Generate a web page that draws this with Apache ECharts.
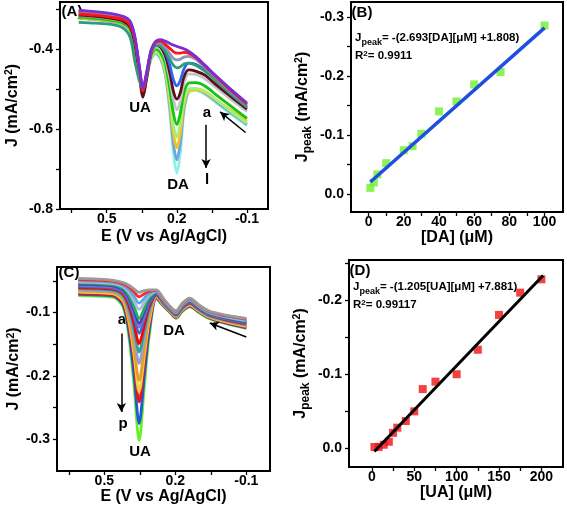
<!DOCTYPE html>
<html><head><meta charset="utf-8">
<script src="https://cdn.jsdelivr.net/npm/echarts@6/dist/echarts.min.js"></script>
<style>html,body{margin:0;padding:0;background:#fff}#c{width:567px;height:511px}</style>
</head><body><div id="c"></div>
<script>
// ---------- Panel A : DPV curves a..l (DA additions) ----------
const A_E = [0.62,0.55,0.48,0.43,0.40,0.38,0.36,0.345,0.33,0.31,0.29,0.27,0.25,0.23,0.215,0.20,0.185,0.17,0.15,0.12,0.08,0.03,-0.03,-0.1];
const A_a = [-0.303,-0.306,-0.311,-0.318,-0.33,-0.368,-0.445,-0.498,-0.46,-0.402,-0.38,-0.376,-0.38,-0.386,-0.39,-0.393,-0.396,-0.399,-0.405,-0.418,-0.44,-0.468,-0.5,-0.535];
const A_b = [-0.312,-0.315,-0.32,-0.326,-0.34,-0.375,-0.45,-0.505,-0.465,-0.405,-0.382,-0.38,-0.388,-0.398,-0.406,-0.41,-0.41,-0.408,-0.41,-0.42,-0.442,-0.47,-0.503,-0.538];
const A_c = [-0.308,-0.311,-0.316,-0.322,-0.335,-0.372,-0.448,-0.5,-0.462,-0.405,-0.384,-0.385,-0.395,-0.412,-0.423,-0.427,-0.425,-0.42,-0.418,-0.425,-0.445,-0.473,-0.506,-0.54];
const A_d = [-0.333,-0.335,-0.338,-0.347,-0.37,-0.43,-0.48,-0.5,-0.465,-0.41,-0.39,-0.392,-0.405,-0.425,-0.44,-0.447,-0.444,-0.437,-0.435,-0.44,-0.455,-0.48,-0.512,-0.545];
const A_e = [-0.306,-0.309,-0.314,-0.32,-0.333,-0.37,-0.447,-0.503,-0.465,-0.405,-0.386,-0.39,-0.405,-0.44,-0.476,-0.492,-0.478,-0.45,-0.435,-0.438,-0.452,-0.478,-0.51,-0.545];
const A_f = [-0.315,-0.318,-0.323,-0.33,-0.345,-0.385,-0.465,-0.52,-0.475,-0.41,-0.39,-0.395,-0.415,-0.46,-0.505,-0.525,-0.508,-0.47,-0.452,-0.455,-0.465,-0.49,-0.518,-0.55];
const A_g = [-0.316,-0.319,-0.324,-0.331,-0.346,-0.385,-0.46,-0.51,-0.47,-0.412,-0.395,-0.4,-0.422,-0.475,-0.525,-0.552,-0.53,-0.485,-0.462,-0.463,-0.474,-0.497,-0.525,-0.556];
const A_h = [-0.32,-0.323,-0.328,-0.335,-0.35,-0.39,-0.463,-0.51,-0.47,-0.415,-0.4,-0.408,-0.435,-0.5,-0.56,-0.589,-0.56,-0.51,-0.485,-0.484,-0.492,-0.515,-0.542,-0.573];
const A_i = [-0.318,-0.321,-0.326,-0.333,-0.348,-0.39,-0.462,-0.51,-0.472,-0.42,-0.408,-0.418,-0.45,-0.52,-0.59,-0.62,-0.585,-0.53,-0.5,-0.498,-0.505,-0.527,-0.555,-0.585];
const A_j = [-0.322,-0.325,-0.33,-0.337,-0.352,-0.392,-0.465,-0.512,-0.473,-0.42,-0.406,-0.418,-0.455,-0.535,-0.61,-0.647,-0.61,-0.54,-0.505,-0.502,-0.508,-0.528,-0.552,-0.58];
const A_k = [-0.323,-0.326,-0.331,-0.338,-0.353,-0.393,-0.467,-0.515,-0.475,-0.422,-0.41,-0.422,-0.46,-0.545,-0.635,-0.677,-0.635,-0.55,-0.505,-0.5,-0.51,-0.532,-0.558,-0.588];
const A_l = [-0.322,-0.325,-0.33,-0.337,-0.352,-0.395,-0.47,-0.52,-0.478,-0.425,-0.412,-0.425,-0.465,-0.56,-0.66,-0.71,-0.66,-0.56,-0.508,-0.503,-0.513,-0.535,-0.562,-0.592];
const A_colors = ['#7a2fd6','#ff1414','#8c94b8','#2c9c7c','#2c66f0','#5e0c16','#c3c3c9','#14c414','#a8f070','#f2c12c','#6ea6dc','#8cf2e8'];

// ---------- Panel B : calibration DA ----------
const B_conc = [1,3,5,10,20,25,30,40,50,60,75,100];
const B_jpeak = [-0.010,-0.019,-0.033,-0.052,-0.074,-0.081,-0.102,-0.140,-0.157,-0.186,-0.207,-0.286];
const B_fitX = [1,100];
const B_fitY = [-0.020,-0.282];

// ---------- Panel C : DPV curves a..p (UA additions) ----------
const C_E = [0.61,0.53,0.46,0.42,0.395,0.375,0.353,0.33,0.31,0.28,0.25,0.22,0.197,0.17,0.14,0.10,0.06,0.02,-0.03,-0.1];
const C_a = [-0.046,-0.047,-0.049,-0.0527,-0.0571,-0.0626,-0.068,-0.0654,-0.0641,-0.064,-0.078,-0.091,-0.097,-0.085,-0.077,-0.088,-0.097,-0.101,-0.105,-0.109];
const C_b = [-0.0478,-0.0488,-0.0508,-0.0548,-0.0603,-0.0675,-0.075,-0.0702,-0.0664,-0.0649,-0.0788,-0.0917,-0.0978,-0.0859,-0.0779,-0.0888,-0.0978,-0.1019,-0.1059,-0.1101];
const C_c = [-0.0496,-0.0506,-0.0526,-0.0571,-0.0644,-0.0742,-0.085,-0.0768,-0.0697,-0.0659,-0.0796,-0.0923,-0.0986,-0.0867,-0.0789,-0.0896,-0.0986,-0.1027,-0.1069,-0.1111];
const C_d = [-0.0514,-0.0524,-0.0544,-0.0594,-0.0685,-0.081,-0.095,-0.0833,-0.0729,-0.0668,-0.0804,-0.093,-0.0994,-0.0876,-0.0798,-0.0904,-0.0994,-0.1036,-0.1078,-0.1122];
const C_e = [-0.0532,-0.0542,-0.0562,-0.0619,-0.0737,-0.0901,-0.109,-0.0922,-0.0772,-0.0677,-0.0812,-0.0937,-0.1002,-0.0885,-0.0807,-0.0912,-0.1002,-0.1045,-0.1087,-0.1133];
const C_f = [-0.055,-0.056,-0.058,-0.0641,-0.0773,-0.0956,-0.117,-0.0976,-0.08,-0.0687,-0.082,-0.0943,-0.101,-0.0893,-0.0817,-0.092,-0.101,-0.1053,-0.1097,-0.1143];
const C_g = [-0.0568,-0.0578,-0.0598,-0.0661,-0.0803,-0.0999,-0.123,-0.1018,-0.0821,-0.0696,-0.0828,-0.095,-0.1018,-0.0902,-0.0826,-0.0928,-0.1018,-0.1062,-0.1106,-0.1154];
const C_h = [-0.0586,-0.0596,-0.0616,-0.0684,-0.0844,-0.1066,-0.133,-0.1084,-0.0853,-0.0705,-0.0836,-0.0957,-0.1026,-0.0911,-0.0835,-0.0936,-0.1026,-0.1071,-0.1115,-0.1165];
const C_i = [-0.0604,-0.0614,-0.0634,-0.0711,-0.0901,-0.117,-0.149,-0.1184,-0.0902,-0.0715,-0.0844,-0.0963,-0.1034,-0.0919,-0.0845,-0.0944,-0.1034,-0.1079,-0.1125,-0.1175];
const C_j = [-0.0622,-0.0632,-0.0652,-0.0735,-0.0951,-0.1255,-0.162,-0.1267,-0.0943,-0.0724,-0.0852,-0.097,-0.1042,-0.0928,-0.0854,-0.0952,-0.1042,-0.1088,-0.1134,-0.1186];
const C_k = [-0.064,-0.065,-0.067,-0.0763,-0.1014,-0.137,-0.18,-0.1379,-0.0997,-0.0733,-0.086,-0.0977,-0.105,-0.0937,-0.0863,-0.096,-0.105,-0.1097,-0.1143,-0.1197];
const C_l = [-0.0658,-0.0668,-0.0688,-0.0796,-0.1103,-0.1539,-0.207,-0.1543,-0.1078,-0.0743,-0.0868,-0.0983,-0.1058,-0.0945,-0.0873,-0.0968,-0.1058,-0.1105,-0.1153,-0.1207];
const C_m = [-0.0676,-0.0686,-0.0706,-0.0824,-0.1166,-0.1654,-0.225,-0.1655,-0.1132,-0.0752,-0.0876,-0.099,-0.1066,-0.0954,-0.0882,-0.0976,-0.1066,-0.1114,-0.1162,-0.1218];
const C_n = [-0.0694,-0.0704,-0.0724,-0.085,-0.1224,-0.1758,-0.241,-0.1755,-0.1181,-0.0761,-0.0884,-0.0997,-0.1074,-0.0963,-0.0891,-0.0984,-0.1074,-0.1123,-0.1171,-0.1229];
const C_o = [-0.0712,-0.0722,-0.0742,-0.0888,-0.1332,-0.1969,-0.275,-0.196,-0.1281,-0.0771,-0.0892,-0.1003,-0.1082,-0.0971,-0.0901,-0.0992,-0.1082,-0.1131,-0.1181,-0.1239];
const C_p = [-0.073,-0.074,-0.076,-0.0921,-0.142,-0.2138,-0.302,-0.2124,-0.136,-0.078,-0.09,-0.101,-0.109,-0.098,-0.091,-0.1,-0.109,-0.114,-0.119,-0.125];
const C_colors = ['#9a9a9a','#ff2a2a','#5aaae6','#b0b8e0','#22b060','#3c46b4','#8a6cc0','#3a68d8','#ff0000','#3a9e8e','#9aa0c8','#e0a030','#f0d040','#ee1111','#2255e0','#66f022'];

// ---------- Panel D : calibration UA ----------
const D_conc = [3,8,14,20,25,30,40,50,60,75,100,125,150,175,200];
const D_jpeak = [-0.002,-0.002,-0.005,-0.009,-0.021,-0.028,-0.037,-0.050,-0.080,-0.090,-0.100,-0.133,-0.180,-0.210,-0.228];
const D_fitX = [3,202];
const D_fitY = [0.004,-0.233];

// tick labels
const E_labels = [0.5,0.2,-0.1];
const E_ticks = [0.65,0.5,0.35,0.2,0.05,-0.1];
const A_ylabels = [-0.8,-0.6,-0.4];
const A_yticks = [-0.8,-0.7,-0.6,-0.5,-0.4,-0.3];
const B_xlabels = [0,20,40,60,80,100];
const B_xticks = [0,10,20,30,40,50,60,70,80,90,100];
const B_ylabels = [-0.3,-0.2,-0.1,0];
const B_yticks = [-0.3,-0.25,-0.2,-0.15,-0.1,-0.05,0];
const C_ylabels = [-0.3,-0.2,-0.1];
const C_yticks = [-0.3,-0.25,-0.2,-0.15,-0.1,-0.05];
const D_xlabels = [0,50,100,150,200];
const D_xticks = [0,25,50,75,100,125,150,175,200];
const D_ylabels = [-0.2,-0.1,0];
const D_yticks = [-0.25,-0.2,-0.15,-0.1,-0.05,0];

// annotation arrows [x1,y1,x2,y2] in data units
const arrowsA = [[0.075,-0.589,0.075,-0.6975],[-0.094,-0.6085,0.015,-0.557]];
const arrowsC = [[0.428,-0.133,0.428,-0.257],[-0.1,-0.1385,0.0547,-0.1164]];

const FONT = '"Liberation Sans", Arial, Helvetica, sans-serif';
const chart = echarts.init(document.getElementById('c'));
function pairs(xs, ys){ return xs.map((x,i)=>[x, ys[i]]); }

const nameRich = {
  n:{fontSize:16,fontWeight:'bold',fontFamily:FONT,color:'#000',lineHeight:17,verticalAlign:'middle'},
  sup:{fontSize:10.5,fontWeight:'bold',fontFamily:FONT,color:'#000',lineHeight:10,verticalAlign:'top'},
  sub:{fontSize:12,fontWeight:'bold',fontFamily:FONT,color:'#000',lineHeight:12,padding:[8,0,0,0],verticalAlign:'top'}
};
function fmt1(v){ return (Math.abs(v)<1e-9?0:v).toFixed(1); }
function axis(o){
  return {
    type:'value', gridIndex:o.g, min:o.min, max:o.max, inverse:!!o.inverse,
    name:o.name, nameLocation:'middle', nameGap:o.gap,
    nameTextStyle:{rich:nameRich},
    splitLine:{show:false},
    axisLine:{show:true,onZero:false,lineStyle:{color:'#000',width:2}},
    axisTick:{show:true,length:4,lineStyle:{color:'#000',width:1.3},customValues:o.ticks},
    axisLabel:{show:true,color:'#000',fontFamily:FONT,fontWeight:'bold',fontSize:14,margin:o.margin,
      customValues:o.labels, formatter:o.fmt||(v=>String(v))}
  };
}

const grid = [
  {left:60,top:2,width:208,height:207},
  {left:351,top:2,width:212,height:210},
  {left:57,top:267,width:213,height:204},
  {left:349,top:260,width:214,height:207}
].map(g=>Object.assign(g,{show:true,borderColor:'#000',borderWidth:2,backgroundColor:'transparent'}));

const xAxis = [
  axis({g:0,min:-0.19,max:0.7,inverse:true,name:'{n|E (V vs Ag/AgCl)}',gap:19,ticks:E_ticks,labels:E_labels,margin:3}),
  axis({g:1,min:-10,max:110.5,name:'{n|[DA] (μM)}',gap:16,ticks:B_xticks,labels:B_xlabels,margin:3}),
  axis({g:2,min:-0.2,max:0.7,inverse:true,name:'{n|E (V vs Ag/AgCl)}',gap:14,ticks:E_ticks,labels:E_labels,margin:3}),
  axis({g:3,min:-27,max:225.5,name:'{n|[UA] (μM)}',gap:16,ticks:D_xticks,labels:D_xlabels,margin:3})
];
const yAxis = [
  axis({g:0,min:-0.8,max:-0.282,name:'{n|J (mA/cm}{sup|2}{n|)}',gap:39,ticks:A_yticks,labels:A_ylabels,margin:7,fmt:fmt1}),
  axis({g:1,min:-0.326,max:0.031,inverse:true,name:'{n|J}{sub|peak}{n| (mA/cm}{sup|2}{n|)}',gap:40,ticks:B_yticks,labels:B_ylabels,margin:7,fmt:fmt1}),
  axis({g:2,min:-0.35,max:-0.028,name:'{n|J (mA/cm}{sup|2}{n|)}',gap:34,ticks:C_yticks,labels:C_ylabels,margin:7,fmt:fmt1}),
  axis({g:3,min:-0.254,max:0.025,inverse:true,name:'{n|J}{sub|peak}{n| (mA/cm}{sup|2}{n|)}',gap:40,ticks:D_yticks,labels:D_ylabels,margin:7,fmt:fmt1})
];

function arrowLine(arrs){
  return {silent:true,symbol:['none','arrow'],symbolSize:[7,9],animation:false,
    lineStyle:{color:'#000',width:1.5,type:'solid'},label:{show:false},emphasis:{disabled:true},
    data:arrs.map(a=>[{coord:[a[0],a[1]]},{coord:[a[2],a[3]]}])};
}

const series = [];
const Acurves = [A_l,A_k,A_j,A_i,A_h,A_g,A_f,A_e,A_d,A_c,A_b,A_a];
const Acol = A_colors.slice().reverse();
Acurves.forEach((arr,i)=>{
  series.push({type:'line',xAxisIndex:0,yAxisIndex:0,data:pairs(A_E,arr),showSymbol:false,symbol:'none',
    smooth:0.3,silent:true,lineStyle:{width:2.8,color:Acol[i]},itemStyle:{color:Acol[i]}});
});
series[series.length-1].markLine = arrowLine(arrowsA);

const Ccurves = [C_p,C_o,C_n,C_m,C_l,C_k,C_j,C_i,C_h,C_g,C_f,C_e,C_d,C_c,C_b,C_a];
const Ccol = C_colors.slice().reverse();
Ccurves.forEach((arr,i)=>{
  series.push({type:'line',xAxisIndex:2,yAxisIndex:2,data:pairs(C_E,arr),showSymbol:false,symbol:'none',
    smooth:0.3,silent:true,lineStyle:{width:2.8,color:Ccol[i]},itemStyle:{color:Ccol[i]}});
});
series[series.length-1].markLine = arrowLine(arrowsC);

series.push({type:'scatter',xAxisIndex:1,yAxisIndex:1,data:pairs(B_conc,B_jpeak),symbol:'rect',symbolSize:8,itemStyle:{color:'#6ef02a'},silent:true});
series.push({type:'line',xAxisIndex:1,yAxisIndex:1,data:pairs(B_fitX,B_fitY),showSymbol:false,symbol:'none',lineStyle:{width:3.5,color:'#1f4fe0'},silent:true});
series.push({type:'scatter',xAxisIndex:3,yAxisIndex:3,data:pairs(D_conc,D_jpeak),symbol:'rect',symbolSize:8,itemStyle:{color:'#f01010'},silent:true});
series.push({type:'line',xAxisIndex:3,yAxisIndex:3,data:pairs(D_fitX,D_fitY),showSymbol:false,symbol:'none',lineStyle:{width:3,color:'#000'},silent:true});

const eqRich = {
  n:{fontSize:11.5,fontWeight:'bold',fontFamily:FONT,fill:'#000',lineHeight:13,verticalAlign:'middle'},
  sub:{fontSize:9,fontWeight:'bold',fontFamily:FONT,fill:'#000',lineHeight:9,padding:[7,0,0,0],verticalAlign:'top'},
  sup:{fontSize:8,fontWeight:'bold',fontFamily:FONT,fill:'#000',lineHeight:8,verticalAlign:'top'}
};
function txt(x,y,t,size,align){
  return {type:'text',x:x,y:y,silent:true,style:{legacy:false,text:t,font:'bold '+size+'px '+FONT,fill:'#000',
    align:align||'center',verticalAlign:'middle'}};
}
function rtxt(x,y,t){
  return {type:'text',x:x,y:y,silent:true,style:{legacy:false,text:t,rich:eqRich,fill:'#000',font:'bold 11.5px '+FONT,
    align:'left',verticalAlign:'middle'}};
}
const graphic = [
  txt(72,12,'(A)',15), txt(362,13,'(B)',15), txt(69,273,'(C)',15), txt(360,271,'(D)',15),
  txt(140,108,'UA',15), txt(178,185,'DA',15), txt(207,113,'a',15), txt(207,180,'l',15),
  txt(122,320,'a',15), txt(123,424,'p',15), txt(140,452,'UA',15), txt(174,331,'DA',15),
  rtxt(355,38,'{n|J}{sub|peak}{n|= -(2.693[DA][μM] +1.808)}'),
  rtxt(355,56,'{n|R}{sup|2}{n|= 0.9911}'),
  rtxt(353,287,'{n|J}{sub|peak}{n|= -(1.205[UA][μM] +7.881)}'),
  rtxt(353,305,'{n|R}{sup|2}{n|= 0.99117}')
];

chart.setOption({animation:false,backgroundColor:'#fff',grid,xAxis,yAxis,series,graphic});
</script></body></html>
